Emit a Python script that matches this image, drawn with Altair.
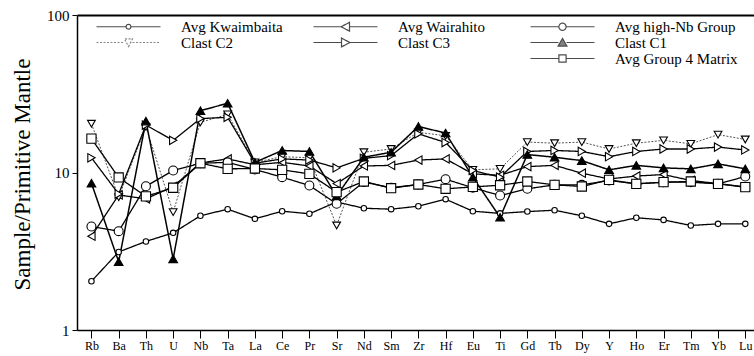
import json
import altair as alt
import pandas as pd

# Element order of the spider diagram
elements = ["Rb", "Ba", "Th", "U", "Nb", "Ta", "La", "Ce", "Pr", "Sr", "Nd", "Sm", "Zr",
            "Hf", "Eu", "Ti", "Gd", "Tb", "Dy", "Y", "Ho", "Er", "Tm", "Yb", "Lu"]

series_names = ["Avg Kwaimbaita", "Avg Wairahito", "Avg high-Nb Group",
                "Clast C2", "Clast C3", "Clast C1", "Avg Group 4 Matrix"]

# Sample / primitive mantle ratios
avg_kwaimbaita = [2.04, 3.13, 3.65, 4.14, 5.31, 5.85, 5.08, 5.68, 5.47, 6.5, 5.93, 5.85, 6.11,
                  6.77, 5.68, 5.5, 5.65, 5.76, 5.31, 4.72, 5.16, 5.0, 4.61, 4.72, 4.72]
avg_wairahito = [3.94, 7.2, 6.8, 8.15, 11.5, 12.2, 11.2, 11.6, 11.0, 8.5, 11.0, 11.1, 12.0,
                 12.2, 9.8, 9.6, 10.9, 11.1, 9.9, 9.1, 9.5, 9.7, 8.9, 8.5, 8.1]
avg_high_nb = [4.54, 4.24, 8.18, 10.3, 11.45, 11.6, 10.45, 9.34, 8.27, 6.33, 8.7, 8.0, 8.4,
               9.07, 8.0, 7.14, 7.88, 8.35, 8.35, 8.9, 8.47, 8.68, 8.68, 8.47, 9.43]
clast_c2 = [20.4, 6.97, 19.5, 5.6, 20.8, 23.4, 11.6, 12.6, 12.4, 4.61, 13.45, 14.1, 18.0,
            17.1, 10.4, 10.55, 15.6, 15.35, 15.6, 14.1, 15.35, 16.0, 15.2, 17.4, 16.2]
clast_c3 = [12.4, 7.3, 20.0, 16.0, 22.0, 22.4, 11.45, 12.2, 12.0, 10.7, 12.3, 12.8, 17.6,
            15.5, 10.3, 9.34, 13.6, 13.8, 13.6, 12.6, 13.6, 14.1, 14.1, 14.5, 13.9]
clast_c1 = [8.55, 2.71, 21.2, 2.83, 24.7, 27.5, 11.6, 13.8, 13.6, 7.1, 12.5, 13.45, 19.6,
            17.8, 9.34, 5.2, 13.0, 12.5, 11.9, 10.4, 11.1, 10.7, 10.55, 11.35, 10.55]
avg_group4 = [16.4, 9.3, 7.05, 8.0, 11.45, 10.55, 10.6, 10.4, 9.8, 7.5, 8.77, 7.95, 8.39,
              7.88, 8.1, 8.3, 8.77, 8.35, 8.15, 8.98, 8.47, 8.68, 8.77, 8.47, 8.07]

series_values = [avg_kwaimbaita, avg_wairahito, avg_high_nb, clast_c2, clast_c3, clast_c1, avg_group4]

# Marker / line styling per series
marker_shape = ["circle", "triangle-left", "circle", "triangle-down", "triangle-right", "triangle-up", "square"]
marker_size = [30, 70, 80, 60, 70, 75, 85]
marker_fill = ["white", "white", "white", "white", "white", "black", "white"]
line_color = ["black", "black", "black", "#555555", "black", "black", "black"]
line_dash = [[1, 0], [1, 0], [1, 0], [2, 1.5], [1, 0], [1, 0], [1, 0]]
line_width = [1.3, 1.3, 1.3, 1.0, 1.3, 1.5, 1.3]

rows = []
for name, vals in zip(series_names, series_values):
    for i, (el, v) in enumerate(zip(elements, vals)):
        rows.append({"series": name, "idx": i, "element": el, "value": v})
df = pd.DataFrame(rows)

serif = "Liberation Serif"

x_scale = alt.Scale(domain=[-0.53, 24.32], nice=False, zero=False)
y_scale = alt.Scale(type="log", domain=[1, 100], nice=False)

x_enc = alt.X(
    "idx:Q", scale=x_scale,
    axis=alt.Axis(values=list(range(len(elements))),
                  labelExpr=f"{json.dumps(elements)}[datum.value]",
                  title=None, grid=False, domainColor="black", domainWidth=1.5,
                  tickColor="black", tickSize=8, tickWidth=1, labelPadding=2,
                  labelFont=serif, labelFontSize=12, labelColor="black"))
y_enc = alt.Y(
    "value:Q", scale=y_scale,
    axis=alt.Axis(values=[1, 10, 100], format="d", grid=False,
                  title="Sample/Primitive Mantle", titleFont=serif, titleFontSize=23,
                  titleFontWeight="normal", titleColor="black", titleX=-55, titleY=159,
                  titleAlign="center", titleBaseline="middle", titleAngle=-90,
                  domainColor="black", domainWidth=1.5, tickColor="black", tickSize=5,
                  labelPadding=3, labelFont=serif, labelFontSize=15, labelColor="black"))

base = alt.Chart(df)

lines = []
points = []
for k, name in enumerate(series_names):
    sub = base.transform_filter(alt.datum.series == name)
    lines.append(sub.mark_line(stroke=line_color[k], strokeWidth=line_width[k],
                               strokeDash=line_dash[k]).encode(x=x_enc, y=y_enc))
    points.append(sub.mark_point(shape=marker_shape[k], size=marker_size[k], filled=True,
                                 fill=marker_fill[k], stroke="black", strokeWidth=1.1,
                                 opacity=1).encode(x=x_enc, y=y_enc))


# Legend symbols: a line with the marker in its middle
def seg(a):
    return f"M-8,0H-{a}M{a},0H8"


def circ(r):
    return f"M-{r},0A{r},{r},0,1,0,{r},0A{r},{r},0,1,0,-{r},0Z"


legend_paths = {
    "Avg Kwaimbaita": seg(0.6) + circ(0.6),
    "Avg Wairahito": seg(1.0) + "M-1.1,0L1,-1.1L1,1.1Z",
    "Avg high-Nb Group": seg(0.9) + circ(0.9),
    "Clast C2": seg(1.0) + "M0,1L1,-0.9L-1,-0.9Z",
    "Clast C3": seg(1.0) + "M1.1,0L-1,-1.1L-1,1.1Z",
    "Clast C1": seg(1.0) + "M0,-1L1.1,0.9L-1.1,0.9Z",
    "Avg Group 4 Matrix": seg(0.9) + "M-0.9,-0.9H0.9V0.9H-0.9Z",
}
blank_a, blank_b = " ", "  "
# legend fills column by column: three columns of three rows
legend_order = ["Avg Kwaimbaita", "Clast C2", blank_a,
                "Avg Wairahito", "Clast C3", blank_b,
                "Avg high-Nb Group", "Clast C1", "Avg Group 4 Matrix"]
style = {n: k for k, n in enumerate(series_names)}
leg_shape = [legend_paths.get(n, "M0,0L0,0") for n in legend_order]
leg_fill = [marker_fill[style[n]] if n in style else "transparent" for n in legend_order]
leg_stroke = [line_color[style[n]] if n in style else "transparent" for n in legend_order]
leg_dash = [line_dash[style[n]] if n in style else [1, 0] for n in legend_order]

legend = alt.Legend(title=None, orient="none", legendX=16, legendY=4, columns=3,
                    symbolSize=64, symbolOffset=28, labelOffset=45, symbolStrokeWidth=1.2,
                    labelFont=serif, labelFontSize=15, labelColor="black",
                    rowPadding=-1, columnPadding=6, padding=0, gridAlign="all")

legend_layer = base.transform_filter("false").mark_point(filled=True).encode(
    x=x_enc, y=y_enc,
    shape=alt.Shape("series:N", scale=alt.Scale(domain=legend_order, range=leg_shape), legend=legend),
    fill=alt.Fill("series:N", scale=alt.Scale(domain=legend_order, range=leg_fill), legend=legend),
    stroke=alt.Stroke("series:N", scale=alt.Scale(domain=legend_order, range=leg_stroke), legend=legend),
    strokeDash=alt.StrokeDash("series:N", scale=alt.Scale(domain=legend_order, range=leg_dash), legend=legend),
)

# Top frame line drawn as a label-less axis
frame = base.mark_point(opacity=0).encode(
    x=alt.X("idx:Q", scale=x_scale,
            axis=alt.Axis(orient="top", labels=False, ticks=False, title=None, grid=False,
                          domainColor="black", domainWidth=2)),
    y=y_enc)

data_layers = alt.layer(*lines, *points, legend_layer)

chart = alt.layer(data_layers, frame).resolve_axis(x="independent").properties(
    width=677, height=315,
    padding={"left": 77, "top": 15, "right": 0, "bottom": 26},
    autosize=alt.AutoSizeParams(type="none"),
    background="white",
).configure_view(stroke=None)

chart.save("out.html", embed_options={"renderer": "svg", "actions": False})
